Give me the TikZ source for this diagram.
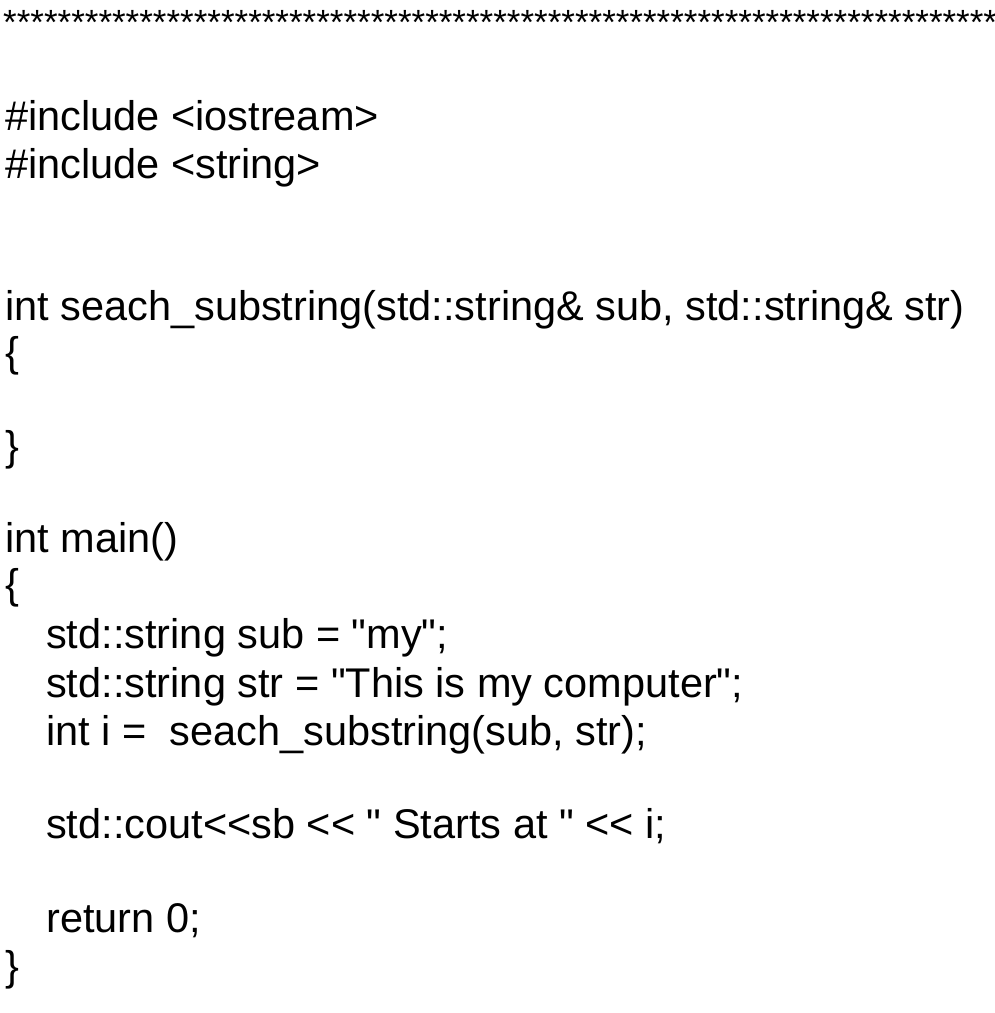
\documentclass[tikz,border=0pt]{standalone}
\usepackage{fontspec}
\setmainfont{Liberation Sans}
\newfontfamily\codefont{Liberation Sans}
\begin{document}
\begin{tikzpicture}[x=1pt,y=1pt,
  code/.style={anchor=base west,inner sep=0pt,font=\codefont\fontsize{41.5}{46}\selectfont}]
\useasboundingbox (0,0) rectangle (995,-1013);
\clip (0,0) rectangle (995,-1013);
\fill[white] (0,0) rectangle (995,-1013);
\node[code,font=\codefont\fontsize{35}{40}\selectfont] (l0) at (3,-34) {*****************************************************************************};
\node[code] (l1) at (5,-130) {\#include <iostream>};
\node[code] (l2) at (5,-178) {\#include <string>};
\node[code] (l3) at (5,-320) {int seach\_substring(std::string\& sub, std::string\& str)};
\node[code] (l4) at (5,-366) {\{};
\node[code] (l5) at (5,-460) {\}};
\node[code] (l6) at (5,-552) {int main()};
\node[code] (l7) at (5,-598) {\{};
\node[code] (l8) at (46,-648) {std::string sub = "my";};
\node[code] (l9) at (46,-697) {std::string str = "This is my computer";};
\node[code] (l10) at (46,-745) {int i = \ seach\_substring(sub, str);};
\node[code] (l11) at (46,-838) {std::cout<{}<sb <{}< " Starts at " <{}< i;};
\node[code] (l12) at (46,-932) {return 0;};
\node[code] (l13) at (5,-980) {\}};
\end{tikzpicture}
\end{document}
